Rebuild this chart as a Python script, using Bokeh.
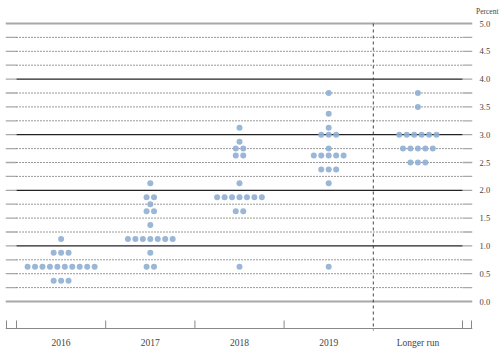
from bokeh.plotting import figure
from bokeh.embed import file_html
from bokeh.resources import INLINE
from bokeh.models import FixedTicker, PrintfTickFormatter, ColumnDataSource

# ---------------- data ----------------
categories = ["2016", "2017", "2018", "2019", "Longer run"]

rates_2016 = [0.375, 0.625, 0.875, 1.125]
counts_2016 = [3, 10, 3, 1]

rates_2017 = [0.625, 0.875, 1.125, 1.375, 1.625, 1.75, 1.875, 2.125]
counts_2017 = [2, 1, 7, 1, 2, 1, 2, 1]

rates_2018 = [0.625, 1.625, 1.875, 2.125, 2.625, 2.75, 2.875, 3.125]
counts_2018 = [1, 2, 7, 1, 2, 2, 1, 1]

rates_2019 = [0.625, 2.125, 2.375, 2.625, 2.75, 3.0, 3.125, 3.375, 3.75]
counts_2019 = [1, 1, 3, 5, 1, 3, 1, 1, 1]

rates_longer = [2.5, 2.75, 3.0, 3.5, 3.75]
counts_longer = [3, 5, 6, 1, 1]

y_tick_values = [0.0, 0.5, 1.0, 1.5, 2.0, 2.5, 3.0, 3.5, 4.0, 4.5, 5.0]
grid_levels = [i * 0.25 for i in range(21)]

series = [
    (rates_2016, counts_2016),
    (rates_2017, counts_2017),
    (rates_2018, counts_2018),
    (rates_2019, counts_2019),
    (rates_longer, counts_longer),
]

# ---------------- figure ----------------
PX_X = 89.2   # px per category
PX_Y = 55.6   # px per percent
x0, x1 = -11 / PX_X, 5 + 10 / PX_X
y0, y1 = -31 / PX_Y, 5 + 8 / PX_Y

FONT = "Liberation Serif"
TXT = "#444444"
GRAY = "#a8a8a8"

p = figure(width=500, height=350, output_backend="svg", toolbar_location=None,
           x_range=(x0, x1), y_range=(y0, y1), y_axis_location="right",
           min_border_left=5, min_border_right=28, min_border_top=15, min_border_bottom=18)
p.outline_line_color = None
p.grid.visible = False
p.background_fill_color = "white"

# "Percent" as title, pushed to the right above the value labels
p.title.text = "Percent"
p.title.align = "right"
p.title.offset = -26
p.title.standoff = 0
p.title.text_font = FONT
p.title.text_font_size = "7.5px"
p.title.text_font_style = "normal"
p.title.text_color = TXT

# y axis (right)
ya = p.yaxis[0]
ya.ticker = FixedTicker(ticks=y_tick_values)
ya.formatter = PrintfTickFormatter(format="%.1f")
ya.axis_line_color = None
ya.major_tick_line_color = None
ya.minor_tick_line_color = None
ya.major_tick_in = 0
ya.major_tick_out = 0
ya.major_label_standoff = 7
ya.major_label_text_font = FONT
ya.major_label_text_font_size = "8.5px"
ya.major_label_text_color = TXT

# x axis (below)
xa = p.xaxis[0]
centers = [i + 0.5 for i in range(len(categories))]
xa.ticker = FixedTicker(ticks=centers)
xa.major_label_overrides = {c: name for c, name in zip(centers, categories)}
xa.axis_line_color = None
xa.major_tick_line_color = None
xa.minor_tick_line_color = None
xa.major_tick_in = 0
xa.major_tick_out = 0
xa.major_label_standoff = 5
xa.major_label_text_font = FONT
xa.major_label_text_font_size = "9.5px"
xa.major_label_text_color = TXT

# ---------------- grid lines ----------------
n = len(categories)
for lv in grid_levels:
    if lv in (0.0, 5.0):
        p.segment(x0=[x0], y0=[lv], x1=[x1], y1=[lv], line_color=GRAY, line_width=2)
        continue
    p.segment(x0=[x0, n], y0=[lv, lv], x1=[0, x1], y1=[lv, lv], line_color=GRAY, line_width=1.3)
    if float(lv).is_integer():
        p.segment(x0=[0], y0=[lv], x1=[n], y1=[lv], line_color="#222222", line_width=1.2)
    else:
        p.segment(x0=[0], y0=[lv], x1=[n], y1=[lv], line_color="#333333", line_width=1,
                  line_dash="1 2")

# vertical dashed separator before "Longer run"
p.segment(x0=[n - 1], y0=[5.0], x1=[n - 1], y1=[y0 + 2 / PX_Y], line_color="#444444",
          line_width=1, line_dash="3 3")

# bottom axis line and ticks
ax_y = -27 / PX_Y
tick_top = -19 / PX_Y
p.segment(x0=[x0], y0=[ax_y], x1=[x1], y1=[ax_y], line_color="#888888", line_width=1)
tick_xs = [x0 + 1 / PX_X, 0, 1, 2, 3, n, x1 - 1 / PX_X]
p.segment(x0=tick_xs, y0=[ax_y] * len(tick_xs), x1=tick_xs, y1=[tick_top] * len(tick_xs),
          line_color="#888888", line_width=1)

# ---------------- dots ----------------
spacing = 7.45 / PX_X
xs, ys = [], []
for ci, (rates, counts) in enumerate(series):
    c = ci + 0.5
    for r, k in zip(rates, counts):
        for i in range(k):
            xs.append(c + (i - (k - 1) / 2) * spacing)
            ys.append(r)
src = ColumnDataSource(dict(x=xs, y=ys))
p.scatter("x", "y", source=src, size=6, fill_color="#8fafd3", fill_alpha=0.9,
          line_color=None)

open("out.html", "w").write(file_html(p, INLINE))
